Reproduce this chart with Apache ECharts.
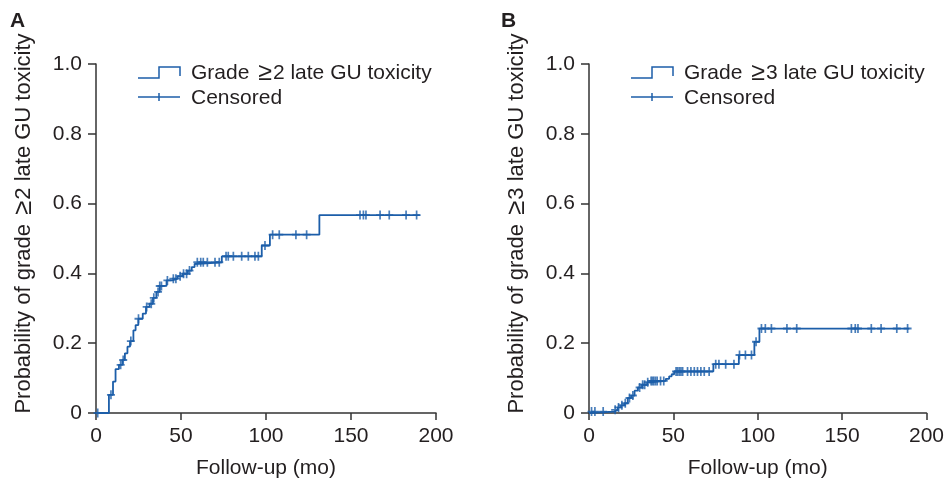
<!DOCTYPE html>
<html><head><meta charset="utf-8">
<script src="https://cdn.jsdelivr.net/npm/echarts@6/dist/echarts.min.js"></script>
<style>html,body{margin:0;padding:0;background:#fff}#c{width:947px;height:484px}</style>
</head><body><div id="c"></div>
<script>
// ---- data ----
const panelLabels = ['A', 'B'];
const seriesNames = ['Grade \u22652 late GU toxicity', 'Grade \u22653 late GU toxicity'];
const yAxisTitles = ['Probability of grade \u22652 late GU toxicity', 'Probability of grade \u22653 late GU toxicity'];
const xAxisTitle = 'Follow-up (mo)';
const censorLabel = 'Censored';
const xTicks = [0, 50, 100, 150, 200];
const yTicks = [0, 0.2, 0.4, 0.6, 0.8, 1.0];

// Panel A: cumulative incidence after each event
const eventTimesA = [0, 7.6, 10, 11.5, 13.5, 15.5, 17, 18.5, 20, 22, 23.3, 24.9, 27.5, 29.4, 31.5, 33.5, 35.5, 37.5, 41.5, 45, 48, 51, 54, 56.3, 58, 59, 74, 97.5, 102.3, 131.4];
const eventProbA = [0, 0.052, 0.09, 0.126, 0.138, 0.152, 0.171, 0.19, 0.206, 0.237, 0.252, 0.27, 0.285, 0.304, 0.313, 0.33, 0.347, 0.364, 0.38, 0.385, 0.392, 0.399, 0.408, 0.418, 0.427, 0.432, 0.449, 0.48, 0.511, 0.567];
const endTimeA = 190.5;
const censorTimesA = [1, 8.8, 14.5, 16, 20.5, 25, 29.8, 32.5, 34, 36.5, 37.5, 38.5, 42, 45.5, 47, 49.5, 51.5, 53.3, 55, 59.6, 61.6, 63.1, 65.5, 70, 72.5, 76.5, 77.8, 80.8, 85.7, 89.6, 93.5, 95.5, 99.4, 103.9, 107.8, 117.6, 123.9, 155.3, 157.3, 158.8, 167.1, 172.5, 182.4, 188.6];

// Panel B
const eventTimesB = [0, 1, 15, 17, 19, 21, 23, 25, 27, 29, 31.5, 34.5, 36.5, 45.5, 47.5, 49, 50.5, 73.7, 88.8, 98, 101];
const eventProbB = [0, 0.004, 0.009, 0.016, 0.022, 0.028, 0.043, 0.05, 0.064, 0.073, 0.081, 0.088, 0.092, 0.098, 0.105, 0.111, 0.119, 0.14, 0.166, 0.204, 0.242];
const endTimeB = 189.8;
const censorTimesB = [1.5, 3.5, 8.4, 15.5, 17.5, 19.5, 21.5, 24, 26, 30, 31.8, 33, 34.8, 36.8, 37.6, 38.4, 39.4, 40.4, 42.4, 44.3, 51.6, 52.5, 53.5, 54.5, 55.5, 58.4, 60.4, 62.4, 64.3, 66.3, 68.3, 71.2, 75.1, 77, 81, 85.9, 89.2, 92.7, 96.3, 99, 102.2, 104.5, 108.1, 117.3, 123.1, 155.5, 157.8, 159.4, 167.3, 173.1, 182.4, 188.8];

// ---- helpers ----
const BLUE = '#1c5ea9';
const AXIS = '#333333';
const TXT = '#231f20';
const FONT = 'Liberation Sans, Arial, sans-serif';
const FS = 21;

function stepValue(times, probs, t) {
  let v = probs[0];
  for (let i = 0; i < times.length; i++) if (times[i] <= t) v = probs[i];
  return v;
}
function lineData(times, probs, end) {
  const d = times.map((t, i) => [t, probs[i]]);
  d.push([end, probs[probs.length - 1]]);
  return d;
}
function censorData(ct, times, probs) {
  return ct.map(t => [t, stepValue(times, probs, t)]);
}
// render the "≥" larger, as in the original typesetting
function richGe(s) {
  const k = s.indexOf('\u2265');
  return '{a|' + s.slice(0, k) + '}{g|\u2265}{a|' + s.slice(k + 1) + '}';
}
function richStyles(fs) {
  return {
    a: { fontFamily: FONT, fontSize: fs, color: TXT },
    g: { fontFamily: FONT, fontSize: fs + 4, color: TXT, padding: [0, 1, 0, 3] }
  };
}

const panels = [
  { times: eventTimesA, probs: eventProbA, end: endTimeA, cens: censorTimesA },
  { times: eventTimesB, probs: eventProbB, end: endTimeB, cens: censorTimesB }
];
const gridLeft = [96, 589];
const gridTop = 64, gridW = 340, gridH = 351;

const grids = [], xAxes = [], yAxes = [], series = [], graphics = [];
panels.forEach((p, i) => {
  grids.push({ left: gridLeft[i], top: gridTop, width: gridW, height: gridH, containLabel: false });
  xAxes.push({
    gridIndex: i, type: 'value', min: xTicks[0], max: xTicks[xTicks.length - 1], interval: 50,
    name: xAxisTitle, nameLocation: 'middle', nameGap: 45,
    nameTextStyle: { fontFamily: FONT, fontSize: FS, color: TXT },
    axisLine: { show: true, lineStyle: { color: AXIS, width: 1.5 } },
    axisTick: { show: true, length: 7, lineStyle: { color: AXIS, width: 1.5 } },
    axisLabel: { margin: 13, fontFamily: FONT, fontSize: FS, color: TXT },
    splitLine: { show: false }
  });
  yAxes.push({
    gridIndex: i, type: 'value', min: yTicks[0], max: yTicks[yTicks.length - 1], interval: 0.2,
    name: richGe(yAxisTitles[i]), nameLocation: 'middle', nameGap: 59,
    nameTextStyle: { fontFamily: FONT, fontSize: 22, color: TXT, rich: richStyles(22), padding: [0, 0, 0, 30] },
    axisLine: { show: true, lineStyle: { color: AXIS, width: 1.5 } },
    axisTick: { show: true, length: 8, lineStyle: { color: AXIS, width: 1.5 } },
    axisLabel: { margin: 14, fontFamily: FONT, fontSize: FS, color: TXT,
      formatter: v => v === 0 ? '0' : v.toFixed(1) },
    splitLine: { show: false }
  });
  series.push({
    type: 'line', xAxisIndex: i, yAxisIndex: i, step: 'end', showSymbol: false,
    data: lineData(p.times, p.probs, p.end),
    lineStyle: { color: BLUE, width: 1.8 }, silent: true, animation: false
  });
  series.push({
    type: 'scatter', xAxisIndex: i, yAxisIndex: i,
    symbol: 'path://M5,0L5,10M0,5L10,5', symbolSize: [8, 9],
    itemStyle: { color: 'none', borderColor: BLUE, borderWidth: 1.8 },
    data: censorData(p.cens, p.times, p.probs), silent: true, animation: false
  });

  const ox = gridLeft[i] - 96;
  graphics.push({ type: 'text', left: i ? 501 : 10, top: 11,
    style: { text: panelLabels[i], font: 'bold 21px ' + FONT, fill: TXT } });
  graphics.push({ type: 'polyline', shape: { points: [[138 + ox, 78], [159 + ox, 78], [159 + ox, 67], [180 + ox, 67], [180 + ox, 76]] },
    style: { stroke: BLUE, lineWidth: 1.5, fill: null } });
  graphics.push({ type: 'text', x: 191 + ox, y: 73,
    style: { text: richGe(seriesNames[i]), rich: richStyles(FS), font: FS + 'px ' + FONT, fill: TXT, verticalAlign: 'middle' } });
  graphics.push({ type: 'polyline', shape: { points: [[138 + ox, 97], [180 + ox, 97]] },
    style: { stroke: BLUE, lineWidth: 1.5, fill: null } });
  graphics.push({ type: 'polyline', shape: { points: [[159 + ox, 93], [159 + ox, 101]] },
    style: { stroke: BLUE, lineWidth: 1.5, fill: null } });
  graphics.push({ type: 'text', x: 191 + ox, y: 98,
    style: { text: censorLabel, font: FS + 'px ' + FONT, fill: TXT, verticalAlign: 'middle' } });
});

const chart = echarts.init(document.getElementById('c'), null, { renderer: 'canvas' });
chart.setOption({
  backgroundColor: '#ffffff', animation: false,
  grid: grids, xAxis: xAxes, yAxis: yAxes, series: series, graphic: graphics
});
</script></body></html>
